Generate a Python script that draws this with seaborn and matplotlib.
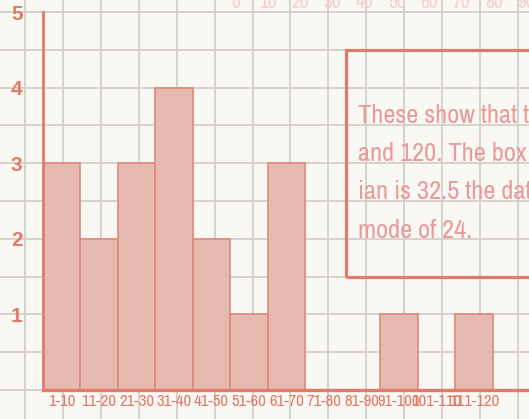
import matplotlib
matplotlib.use("Agg")
import matplotlib.pyplot as plt
import seaborn as sns
import numpy as np
from matplotlib.patches import Rectangle
from matplotlib.font_manager import fontManager

# data
categories = ["1-10", "11-20", "21-30", "31-40", "41-50", "51-60",
              "61-70", "71-80", "81-90", "91-100", "101-110", "111-120"]
counts = [3, 2, 3, 4, 2, 1, 3, 0, 0, 1, 0, 1]
y_ticks = [1, 2, 3, 4, 5]
top_scale = [0, 10, 20, 30, 40, 50, 60, 70, 80, 90]
note_lines = [
    "These show that the data lies between 1",
    "and 120. The box plot shows the med-",
    "ian is 32.5 the data has a",
    "mode of 24.",
]

PAPER = "#faf8f3"
GRID = "#d3cec8"
CORAL = "#e07b67"
BAR = "#e6b9b1"
BAR_EDGE = "#e08878"
PINK = "#ea9a9a"
FADED = "#f6cccc"


def pick_narrow():
    # look for a condensed / narrow face, else fall back to Liberation Sans
    for f in fontManager.ttflist:
        if "Narrow" in f.name or "Condensed" in f.name:
            return f.name, "normal"
    for f in fontManager.ttflist:
        if str(f.stretch) in ("condensed", "semi-condensed") or "Condensed" in f.fname:
            return f.name, f.stretch
    return "Liberation Sans", "normal"


sns.set_style("white")
plt.rcParams['font.family'] = ['Liberation Sans', 'DejaVu Sans']
narrow, narrow_stretch = pick_narrow()

W, H = 529, 419
fig = plt.figure(figsize=(W / 100, H / 100), dpi=100)
fig.patch.set_facecolor(PAPER)

# squared paper background
bg = fig.add_axes([0, 0, 1, 1], zorder=0)
bg.set_xlim(0, W)
bg.set_ylim(H, 0)
bg.set_facecolor(PAPER)
bg.axis("off")
for gx in np.arange(25.2, W, 37.9):
    bg.axvline(gx, color=GRID, lw=1.3)
for gy in np.arange(12, H, 37.8):
    bg.axhline(gy, color=GRID, lw=1.3)

ax = fig.add_axes([42.7 / W, 29 / H, (W - 42.7) / W, 378 / H], zorder=1)
ax.set_facecolor("none")

sns.barplot(x=categories, y=counts, ax=ax, color=BAR, edgecolor=BAR_EDGE,
            linewidth=1.2, width=1, saturation=1)
for p in ax.patches:
    p.set_facecolor(BAR)

ax.set_xlim(-0.5, -0.5 + (W - 42.7) / 37.5)
ax.set_ylim(0, 5)
ax.set_xlabel("")
ax.set_ylabel("")

for s in ["top", "right"]:
    ax.spines[s].set_visible(False)
ax.spines["left"].set_color(CORAL)
ax.spines["left"].set_linewidth(2.0)
ax.spines["bottom"].set_color(CORAL)
ax.spines["bottom"].set_linewidth(2.4)

ax.set_yticks(y_ticks)
ax.set_yticklabels([str(t) for t in y_ticks])
ax.tick_params(axis="y", direction="inout", length=23, width=1.9, color=CORAL,
               labelcolor=CORAL, labelsize=15, pad=3)
for lbl in ax.get_yticklabels():
    lbl.set_fontweight("bold")
ax.tick_params(axis="x", length=0, labelcolor=CORAL, pad=3)
for lbl in ax.get_xticklabels():
    lbl.set_family([narrow, "DejaVu Sans"])
    lbl.set_fontstretch(narrow_stretch)
    lbl.set_fontweight("bold")
    lbl.set_fontsize(12)
ax.set_axisbelow(True)

# faded scale peeking in at the top
for i, v in enumerate(top_scale):
    ax.text(4.65 + i * 0.86, 5.13, str(v), color=FADED, fontsize=14,
            family=[narrow, "DejaVu Sans"], stretch=narrow_stretch,
            ha="center", va="center", clip_on=False)

# note box
ax.add_patch(Rectangle((7.59, 1.5), 10, 3.0, fill=False, edgecolor=CORAL,
                       lw=2.3, clip_on=False, zorder=3))
for i, line in enumerate(note_lines):
    ax.text(7.91, 3.53 - i * 0.505, line, color=PINK, fontsize=19,
            family=[narrow, "DejaVu Sans"], stretch=narrow_stretch,
            ha="left", va="baseline", clip_on=False)

fig.savefig("out.png", dpi=100, facecolor=PAPER)
